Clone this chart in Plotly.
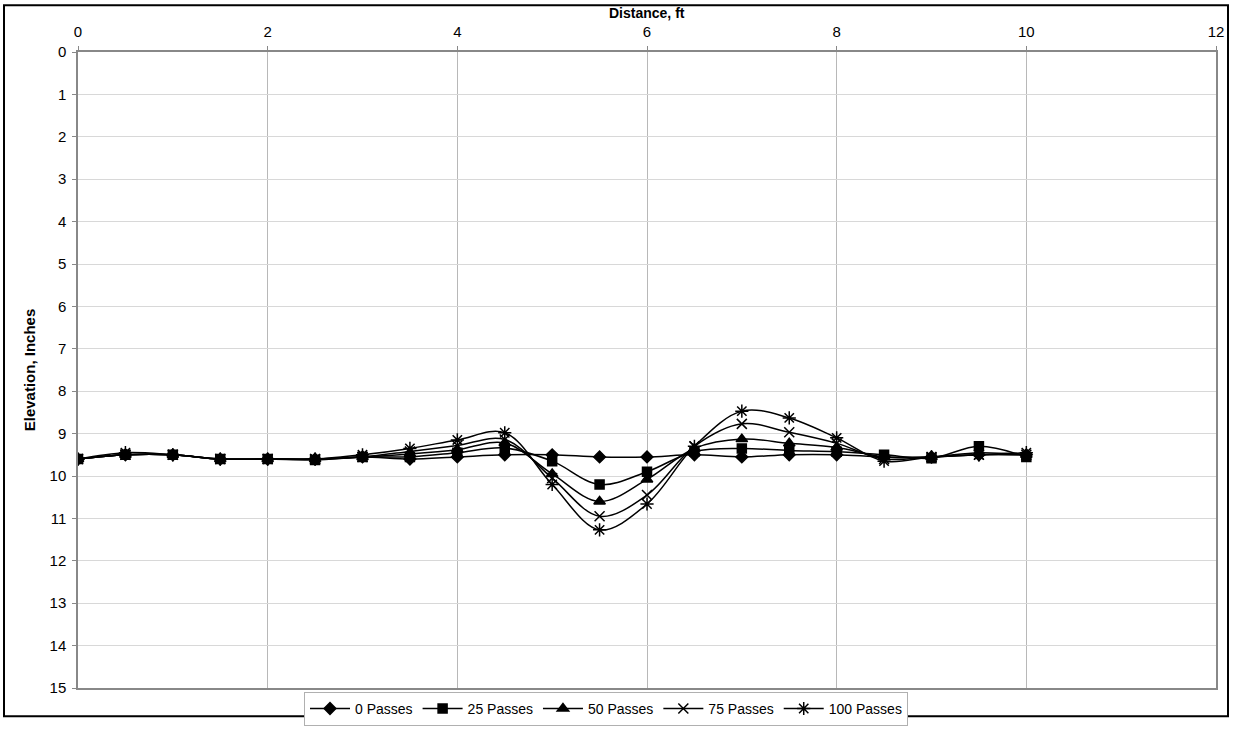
import plotly.graph_objects as go

distance = [0, 0.5, 1, 1.5, 2, 2.5, 3, 3.5, 4, 4.5, 5, 5.5, 6, 6.5, 7, 7.5, 8, 8.5, 9, 9.5, 10]
passes_0 = [9.6, 9.5, 9.5, 9.6, 9.6, 9.6, 9.55, 9.6, 9.55, 9.5, 9.5, 9.55, 9.55, 9.5, 9.55, 9.5, 9.5, 9.55, 9.55, 9.5, 9.5]
passes_25 = [9.6, 9.5, 9.5, 9.6, 9.6, 9.62, 9.55, 9.55, 9.45, 9.34, 9.65, 10.2, 9.9, 9.42, 9.35, 9.4, 9.43, 9.5, 9.58, 9.3, 9.55]
passes_50 = [9.6, 9.5, 9.5, 9.6, 9.6, 9.6, 9.55, 9.48, 9.38, 9.22, 9.95, 10.6, 10.08, 9.35, 9.13, 9.23, 9.33, 9.55, 9.55, 9.45, 9.5]
passes_75 = [9.6, 9.5, 9.5, 9.6, 9.6, 9.6, 9.55, 9.42, 9.28, 9.14, 10.05, 10.95, 10.45, 9.3, 8.77, 8.97, 9.23, 9.6, 9.55, 9.5, 9.5]
passes_100 = [9.6, 9.45, 9.5, 9.6, 9.6, 9.6, 9.5, 9.35, 9.15, 8.98, 10.2, 11.27, 10.66, 9.3, 8.47, 8.63, 9.1, 9.65, 9.55, 9.5, 9.45]
series_names = ["0 Passes", "25 Passes", "50 Passes", "75 Passes", "100 Passes"]
x_ticks = [0, 2, 4, 6, 8, 10, 12]
y_ticks = list(range(0, 16))
x_title = "Distance, ft"
y_title = "Elevation, Inches"

symbols = ["diamond", "square", "triangle-up", "x-thin", "asterisk"]
sizes = [9, 9, 10, 10, 11]
series = [passes_0, passes_25, passes_50, passes_75, passes_100]

fig = go.Figure()
for name, vals, sym, sz in zip(series_names, series, symbols, sizes):
    fig.add_trace(go.Scatter(
        x=distance, y=vals, name=name, mode="lines+markers",
        line=dict(color="black", width=1.5, shape="spline", smoothing=1),
        marker=dict(symbol=sym, size=sz, color="black",
                    line=dict(color="black", width=1.5)),
    ))

W, H = 1233, 738
L, R, T, B = 78, 1216, 52, 705
pw, ph = R - L, B - T

fig.update_layout(
    template="none",
    width=W, height=H,
    margin=dict(l=L, r=W - R, t=T, b=H - B, pad=0),
    paper_bgcolor="white", plot_bgcolor="white",
    font=dict(family="Liberation Sans, Arial, sans-serif", color="black", size=15),
    showlegend=True,
    legend=dict(orientation="h", x=(606 - L) / pw, xanchor="center", y=(B - 709) / ph, yanchor="top",
                bordercolor="#b0b0b0", borderwidth=1, font=dict(size=14),
                bgcolor="white", itemwidth=40, tracegroupgap=0),
    xaxis=dict(side="top", range=[0, 12], tickvals=x_ticks, ticktext=[str(t) for t in x_ticks],
               showgrid=True, gridcolor="#b8b8b8", gridwidth=1,
               showline=True, linecolor="#888888", linewidth=1.5, mirror=True,
               ticks="outside", ticklen=4, tickcolor="#888888", zeroline=False,
               ticklabelstandoff=3, automargin=False, tickfont=dict(size=15)),
    yaxis=dict(range=[15, 0], tickvals=y_ticks, ticktext=[str(t) for t in y_ticks],
               showgrid=True, gridcolor="#d8d8d8", gridwidth=1,
               showline=True, linecolor="#888888", linewidth=1.5, mirror=True,
               ticks="outside", ticklen=4, tickcolor="#888888", zeroline=False,
               ticklabelstandoff=3, automargin=False, tickfont=dict(size=15),
               title=dict(text="<b>" + y_title + "</b>", font=dict(size=15), standoff=10)),
    annotations=[dict(text="<b>" + x_title + "</b>", xref="paper", yref="paper",
                      x=0.5, y=(B - 12) / ph, xanchor="center", yanchor="middle",
                      showarrow=False, font=dict(size=14))],
    shapes=[dict(type="rect", xref="paper", yref="paper",
                 x0=(4 - L) / pw, x1=(1228 - L) / pw,
                 y0=(B - 734) / ph, y1=(B - 4) / ph,
                 line=dict(color="black", width=2), fillcolor="rgba(0,0,0,0)", layer="below")],
)

fig.write_html("out.html", config={"displayModeBar": False},
               post_script="document.body.style.margin='0';document.body.style.overflow='hidden';")
